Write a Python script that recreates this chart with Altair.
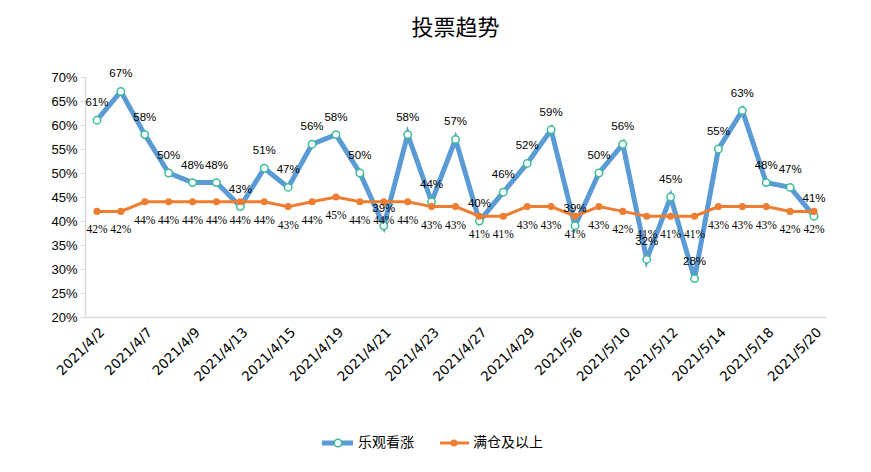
import altair as alt
import pandas as pd

dates = ["2021/4/2","2021/4/6","2021/4/7","2021/4/8","2021/4/9","2021/4/12","2021/4/13",
         "2021/4/14","2021/4/15","2021/4/16","2021/4/19","2021/4/20","2021/4/21","2021/4/22",
         "2021/4/23","2021/4/26","2021/4/27","2021/4/28","2021/4/29","2021/4/30","2021/5/6",
         "2021/5/7","2021/5/10","2021/5/11","2021/5/12","2021/5/13","2021/5/14","2021/5/17",
         "2021/5/18","2021/5/19","2021/5/20"]
bullish = [61,67,58,50,48,48,43,51,47,56,58,50,39,58,44,57,40,46,52,59,39,50,56,32,45,28,55,63,48,47,41]
full_pos = [42,42,44,44,44,44,44,44,43,44,45,44,44,44,43,43,41,41,43,43,41,43,42,41,41,41,43,43,43,42,42]
shown_dates = dates[::2]
y_ticks = [20,25,30,35,40,45,50,55,60,65,70]
title_text = "投票趋势"
series_names = ["乐观看涨", "满仓及以上"]

BLUE = "#5B9BD5"
ORANGE = "#ED7D31"
GREEN = "#3DBE96"

df = pd.DataFrame({"date": dates, "bull": bullish, "full": full_pos})

xaxis = alt.Axis(values=shown_dates, labelAngle=-45, labelAlign="right",
                 labelBaseline="top", labelFont="DejaVu Sans", labelFontSize=13.5,
                 labelColor="#000000", domainColor="#D9D9D9", domainWidth=1.5,
                 ticks=False, title=None, labelPadding=8, labelOverlap=False)
yaxis = alt.Axis(values=y_ticks, labelExpr="datum.value + '%'", title=None,
                 labelFont="Liberation Sans", labelFontSize=13, labelColor="#000000",
                 domainColor="#D9D9D9", domainWidth=1.5, tickColor="#D9D9D9",
                 tickSize=5, grid=False, labelPadding=3, labelOverlap=False,
                 labelFlush=False)
xscale = alt.Scale(type="point", padding=0.5)
yscale = alt.Scale(domain=[20, 70], nice=False, zero=False)


def X():
    return alt.X("date:N", sort=dates, scale=xscale, axis=xaxis)


def Y(field):
    return alt.Y(f"{field}:Q", scale=yscale, axis=yaxis)


base = alt.Chart(df)

blue_line = base.mark_line(color=BLUE, strokeWidth=5).encode(x=X(), y=Y("bull"))
blue_pts = base.mark_point(shape="circle", filled=True, fill="white", stroke=GREEN,
                           strokeWidth=1.5, size=55, opacity=1).encode(x=X(), y=Y("bull"))
blue_lbl = base.transform_calculate(lab="datum.bull + '%'").mark_text(
    dy=-17, fontSize=11.5, font="Liberation Sans", color="#000000").encode(
    x=X(), y=Y("bull"), text="lab:N")

orange_line = base.mark_line(color=ORANGE, strokeWidth=3).encode(x=X(), y=Y("full"))
orange_pts = base.mark_point(shape="circle", filled=True, color=ORANGE, size=50,
                             opacity=1).encode(x=X(), y=Y("full"))
orange_lbl = base.transform_calculate(lab="datum.full + '%'").mark_text(
    dy=19, fontSize=11.5, font="Liberation Serif", color="#000000").encode(
    x=X(), y=Y("full"), text="lab:N")

one = alt.Data(values=[{"k": 1}])
leg_y = 366
lg_blue_line = alt.Chart(one).mark_rule(color=BLUE, strokeWidth=5).encode(
    x=alt.value(237), x2=alt.value(268), y=alt.value(leg_y))
lg_blue_pt = alt.Chart(one).mark_point(shape="circle", filled=True, fill="white", stroke=GREEN,
                                       strokeWidth=1.5, size=55, opacity=1).encode(
    x=alt.value(253), y=alt.value(leg_y))
lg_blue_txt = alt.Chart(one).mark_text(align="left", baseline="middle", fontSize=14,
                                       font="Noto Sans CJK SC", color="#000000").encode(
    x=alt.value(273), y=alt.value(leg_y), text=alt.value(series_names[0]))
lg_or_line = alt.Chart(one).mark_rule(color=ORANGE, strokeWidth=3).encode(
    x=alt.value(355), x2=alt.value(384), y=alt.value(leg_y))
lg_or_pt = alt.Chart(one).mark_point(shape="circle", filled=True, color=ORANGE, size=50,
                                     opacity=1).encode(
    x=alt.value(369), y=alt.value(leg_y))
lg_or_txt = alt.Chart(one).mark_text(align="left", baseline="middle", fontSize=14,
                                     font="Noto Sans CJK SC", color="#000000").encode(
    x=alt.value(388), y=alt.value(leg_y), text=alt.value(series_names[1]))

chart = alt.layer(
    blue_line, orange_line, blue_pts, orange_pts, blue_lbl, orange_lbl,
    lg_blue_line, lg_blue_pt, lg_blue_txt, lg_or_line, lg_or_pt, lg_or_txt
).properties(
    width=741, height=240,
    title=alt.TitleParams(title_text, font="Noto Sans CJK SC", fontSize=22, fontWeight="normal",
                          color="#000000", anchor="middle", offset=28),
    autosize=alt.AutoSizeParams(type="none"),
    padding={"left": 77, "top": 69, "right": 37, "bottom": 140},
).configure_view(stroke=None).configure_axis(grid=False)

chart.save("out.html", embed_options={"renderer": "svg", "actions": False})
